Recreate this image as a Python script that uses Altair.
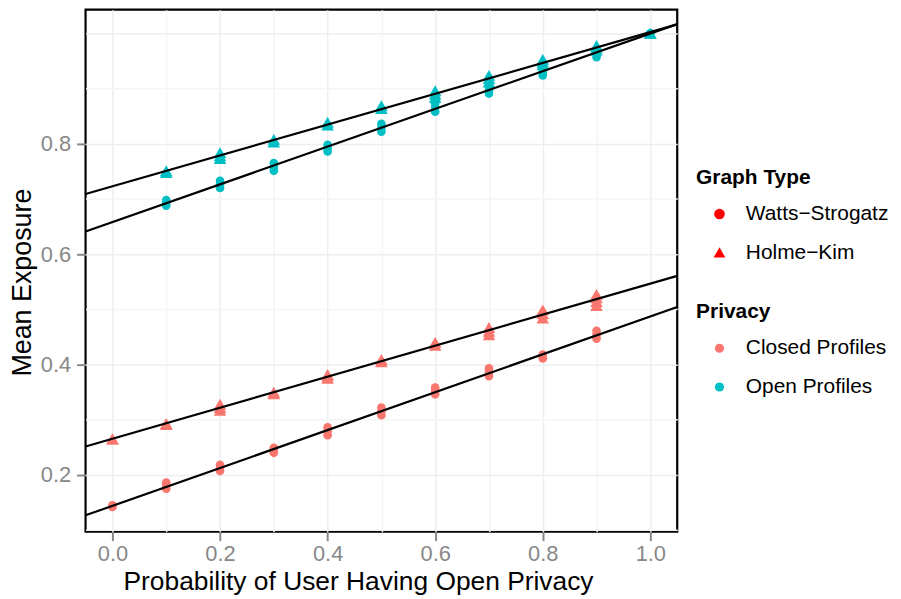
import altair as alt
import pandas as pd

# ---- data ----
x_values = [0.0, 0.1, 0.2, 0.3, 0.4, 0.5, 0.6, 0.7, 0.8, 0.9, 1.0]

open_ws = [[], [0.688, 0.693, 0.698], [0.720, 0.726, 0.733], [0.751, 0.758, 0.765],
           [0.786, 0.792, 0.798], [0.822, 0.829, 0.836], [0.858, 0.866, 0.874, 0.880],
           [0.891, 0.897, 0.904], [0.924, 0.930, 0.937], [0.957, 0.963, 0.968], [1.0, 1.0]]
open_hk = [[], [0.748, 0.751], [0.773, 0.778, 0.784], [0.803, 0.808], [0.834, 0.839],
           [0.864, 0.869], [0.884, 0.890, 0.896], [0.912, 0.918, 0.924],
           [0.943, 0.948, 0.953], [0.970, 0.975, 0.978], [1.0, 1.0]]
closed_ws = [[0.142, 0.145], [0.175, 0.181, 0.186], [0.207, 0.213, 0.218], [0.240, 0.245, 0.249],
             [0.272, 0.279, 0.286], [0.308, 0.315, 0.322], [0.346, 0.352, 0.358],
             [0.379, 0.386, 0.393], [0.411, 0.418], [0.447, 0.454, 0.461], []]
closed_hk = [[0.265, 0.265], [0.291, 0.293], [0.317, 0.322, 0.328], [0.347, 0.350],
             [0.375, 0.379, 0.382], [0.405, 0.409], [0.435, 0.440], [0.454, 0.460, 0.467],
             [0.484, 0.492, 0.499], [0.507, 0.514, 0.521, 0.527], []]

graph_types = ["Watts\u2212Strogatz", "Holme\u2212Kim"]
privacy_types = ["Closed Profiles", "Open Profiles"]
privacy_colors = ["#F8766D", "#00BFC4"]

x_tick_values = [0.0, 0.1, 0.2, 0.3, 0.4, 0.5, 0.6, 0.7, 0.8, 0.9, 1.0]
y_tick_values = [0.1, 0.2, 0.3, 0.4, 0.5, 0.6, 0.7, 0.8, 0.9, 1.0]

series = [
    (graph_types[0], privacy_types[1], open_ws),
    (graph_types[1], privacy_types[1], open_hk),
    (graph_types[0], privacy_types[0], closed_ws),
    (graph_types[1], privacy_types[0], closed_hk),
]
rows = []
for g, p, vals in series:
    for x, ys in zip(x_values, vals):
        for y in ys:
            rows.append({"p": x, "exposure": y, "graph": g, "privacy": p})
df = pd.DataFrame(rows)

FONT = "Liberation Sans"
even_test = "round(datum.value*10) % 2 == 0"

x_scale = alt.Scale(domain=[-0.05, 1.05], nice=False, zero=False)
y_scale = alt.Scale(domain=[0.097, 1.043], nice=False, zero=False)

x_axis = alt.Axis(
    values=x_tick_values,
    labelExpr="round(datum.value*10) % 2 == 0 ? format(datum.value, '.1f') : ''",
    tickOpacity={"condition": {"test": even_test, "value": 1}, "value": 0},
    gridColor={"condition": {"test": even_test, "value": "#EEEEEE"}, "value": "#F5F5F5"},
    gridWidth=1.5,
    tickSize=9, tickWidth=2, tickColor="#888888",
    labelColor="#888888", labelFontSize=22, labelPadding=3, labelFont=FONT,
    title="Probability of User Having Open Privacy", titleFontSize=26.5,
    titleFontWeight="normal", titleColor="black", titleFont=FONT, titlePadding=4,
    titleX=274, titleAlign="center",
    domain=False,
)
y_test = "round(datum.value*10) % 2 == 0 && datum.value < 0.95"
y_axis = alt.Axis(
    values=y_tick_values,
    labelExpr="round(datum.value*10) % 2 == 0 && datum.value < 0.95 ? format(datum.value, '.1f') : ''",
    tickOpacity={"condition": {"test": y_test, "value": 1}, "value": 0},
    gridColor={"condition": {"test": even_test, "value": "#EEEEEE"}, "value": "#F5F5F5"},
    gridWidth=1.5,
    tickSize=9, tickWidth=2, tickColor="#888888",
    labelColor="#888888", labelFontSize=22, labelPadding=6, labelFont=FONT,
    title="Mean Exposure", titleFontSize=27, titleFontWeight="normal",
    titleColor="black", titleFont=FONT,
    titleX=-49, titleY=274, titleAlign="center", titleBaseline="bottom", titleAngle=270,
    domain=False,
)

legend_common = dict(orient="none", symbolSize=85, symbolOffset=13, labelOffset=16,
                     rowPadding=17, titlePadding=16,
                     titleFont=FONT, titleFontSize=21, titleFontWeight="bold", titleColor="black",
                     labelFont=FONT, labelFontSize=21, labelColor="black", padding=0)

base = alt.Chart(df)

points = base.mark_point(filled=True, opacity=1).encode(
    x=alt.X("p:Q", scale=x_scale, axis=x_axis),
    y=alt.Y("exposure:Q", scale=y_scale, axis=y_axis),
    color=alt.Color("privacy:N", scale=alt.Scale(domain=privacy_types, range=privacy_colors),
                    legend=alt.Legend(title="Privacy", legendX=614, legendY=293,
                                      symbolType="circle", **legend_common)),
    shape=alt.Shape("graph:N", scale=alt.Scale(domain=graph_types, range=["circle", "triangle-up"]),
                    legend=alt.Legend(title="Graph Type", legendX=614, legendY=158,
                                      symbolFillColor="#FF0000", symbolStrokeColor="#FF0000",
                                      **legend_common)),
    size=alt.condition(alt.datum.graph == graph_types[1], alt.value(160), alt.value(76)),
)

lines = base.transform_regression(
    "p", "exposure", groupby=["graph", "privacy"], extent=[-0.05, 1.05]
).mark_line(color="black", strokeWidth=2.2).encode(
    x=alt.X("p:Q", scale=x_scale),
    y=alt.Y("exposure:Q", scale=y_scale),
    detail=["graph:N", "privacy:N"],
)

chart = alt.layer(points, lines).properties(
    width=595, height=525,
    background="white",
    autosize=alt.AutoSizeParams(type="none"),
    padding={"left": 78, "top": 0, "right": 217, "bottom": 66},
).configure_view(
    stroke="black", strokeWidth=2.2
)

chart.save("out.html", embed_options={"renderer": "svg", "actions": False})
